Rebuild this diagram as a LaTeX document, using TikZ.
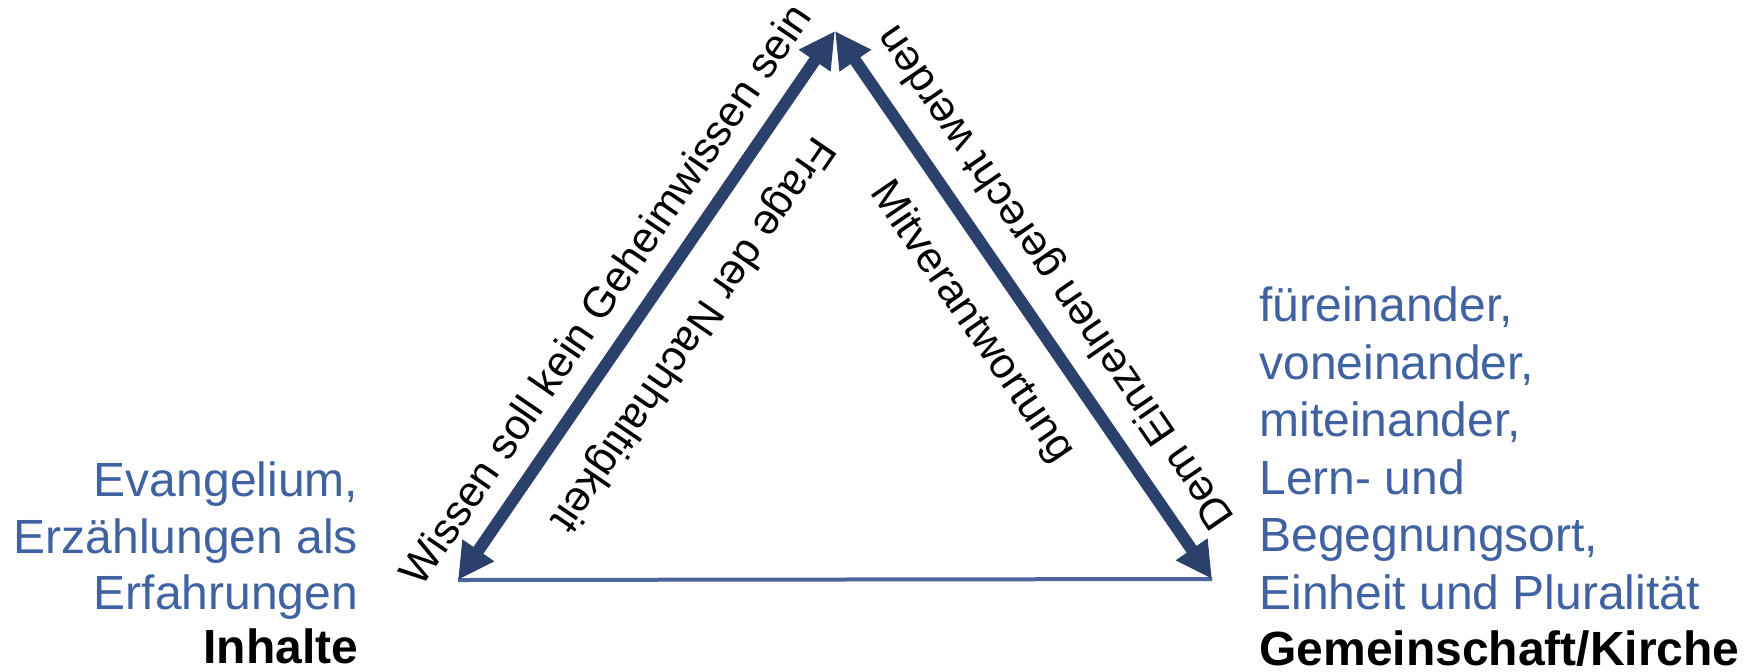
\documentclass[tikz,border=0pt]{standalone}
\usepackage{fontspec}
\setmainfont{Liberation Sans}
\usetikzlibrary{arrows.meta}
\definecolor{navy}{RGB}{44,64,108}
\definecolor{edgeblue}{RGB}{74,102,155}
\definecolor{txtblue}{RGB}{64,98,160}
\begin{document}
\begin{tikzpicture}[x=0.5pt,y=-0.5pt,
  twoway/.style={draw=navy, line width=6pt, {Triangle[length=18pt,width=18pt]}-{Triangle[length=18pt,width=18pt]}},
  baseedge/.style={draw=edgeblue, line width=2pt},
  lbl/.style={font=\fontsize{24}{28}\selectfont, text=txtblue, inner sep=0pt},
  head/.style={font=\fontsize{24}{28}\selectfont\bfseries, text=black, inner sep=0pt},
  rlbl/.style={font=\fontsize{21.5}{26}\selectfont, text=black, inner sep=0pt, anchor=base}
]
\useasboundingbox (0,0) rectangle (1754,671);
\coordinate (A) at (458,580);
\coordinate (T) at (835,31);
\coordinate (D) at (1212,579);
\draw[baseedge] (A) -- (D);
\draw[twoway] (A) -- (T);
\draw[twoway] (T) -- (D);

\node[rlbl, rotate=55.6] (wissen) at (617.6,302.7) {Wissen soll kein Geheimwissen sein};
\node[rlbl, rotate=235.6] (frage) at (682,327.3) {Frage der Nachhaltigkeit};
\node[rlbl, rotate=-55.6] (mitv) at (962.5,328.5) {Mitverantwortung};
\node[rlbl, rotate=124.4] (dem) at (1065.9,270.4) {Dem Einzelnen gerecht werden};

\node[lbl, anchor=base east] (e1) at (358.5,496) {Evangelium,};
\node[lbl, anchor=base east] (e2) at (358.5,553) {Erzählungen als};
\node[lbl, anchor=base east] (e3) at (358.5,609) {Erfahrungen};
\node[head, anchor=base east] (inh) at (358.5,663) {Inhalte};

\node[lbl, anchor=base west] (r1) at (1259,321) {füreinander,};
\node[lbl, anchor=base west] (r2) at (1259,379) {voneinander,};
\node[lbl, anchor=base west] (r3) at (1259,436) {miteinander,};
\node[lbl, anchor=base west] (r4) at (1259,494) {Lern- und};
\node[lbl, anchor=base west] (r5) at (1259,551) {Begegnungsort,};
\node[lbl, anchor=base west] (r6) at (1259,609) {Einheit und Pluralität};
\node[head, anchor=base west] (gem) at (1259,665) {Gemeinschaft/Kirche};
\end{tikzpicture}
\end{document}
